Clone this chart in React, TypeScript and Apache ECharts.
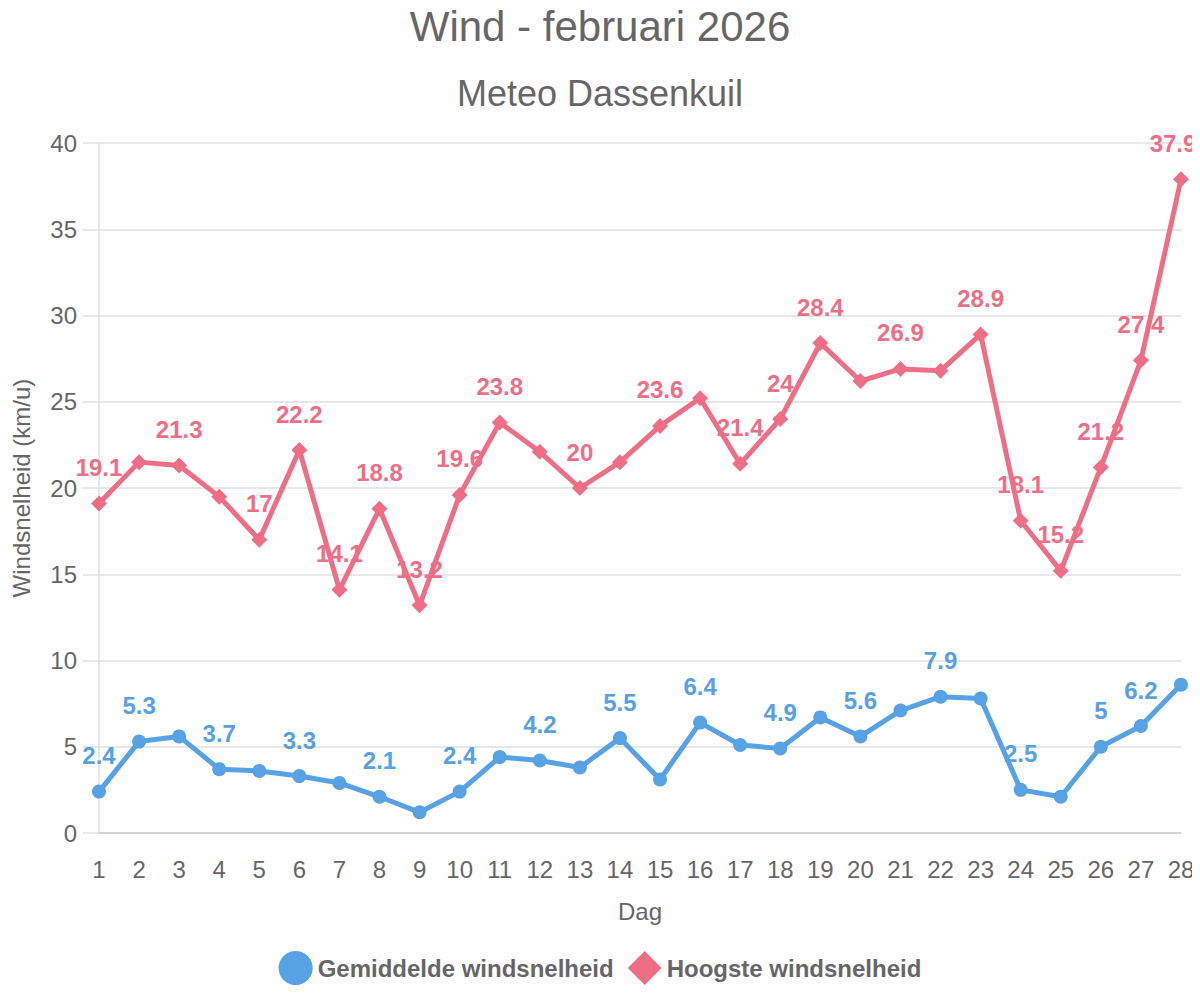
import { useEffect, useRef } from "react";
import * as echarts from "echarts";

const days = Array.from({ length: 28 }, (_, i) => String(i + 1));

const avgWind = [
  2.4, 5.3, 5.6, 3.7, 3.6, 3.3, 2.9, 2.1, 1.2, 2.4, 4.4, 4.2, 3.8, 5.5, 3.1,
  6.4, 5.1, 4.9, 6.7, 5.6, 7.1, 7.9, 7.8, 2.5, 2.1, 5, 6.2, 8.6,
];
const maxWind = [
  19.1, 21.5, 21.3, 19.5, 17, 22.2, 14.1, 18.8, 13.2, 19.6, 23.8, 22.1, 20,
  21.5, 23.6, 25.2, 21.4, 24, 28.4, 26.2, 26.9, 26.8, 28.9, 18.1, 15.2, 21.2,
  27.4, 37.9,
];

// which days get a visible value label (others were hidden in the original)
const avgLabelDays = [1, 2, 4, 6, 8, 10, 12, 14, 16, 18, 20, 22, 24, 26, 27];
const maxLabelDays = [
  1, 3, 5, 6, 7, 8, 9, 10, 11, 13, 15, 17, 18, 19, 21, 23, 24, 25, 26, 27, 28,
];

const yTicks = { min: 0, max: 40, interval: 5 };

const BLUE = "#57a1e5";
const RED = "#ee6e86";
const TEXT = "#666666";
const FONT = "'Liberation Sans', Arial, sans-serif";

export default function App() {
  const chartRef = useRef<HTMLDivElement>(null);

  useEffect(() => {
    if (!chartRef.current) return;
    const chart = echarts.init(chartRef.current, null, { renderer: "svg" });

    const lastIdx = days.length - 1;
    const withLabels = (values: number[], shown: number[]) =>
      values.map((v, i) => ({
        value: v,
        label: {
          show: shown.includes(i + 1),
          // keep the last label inside the canvas
          offset: i === lastIdx ? [-8, 0] : [0, 0],
        },
      }));

    const labelStyle = (color: string, distance: number) => ({
      position: "top",
      distance,
      color,
      fontSize: 24,
      fontWeight: "bold",
      fontFamily: FONT,
    });

    chart.setOption({
      animation: false,
      textStyle: { fontFamily: FONT },
      title: [
        {
          text: "Wind - februari 2026",
          left: "center",
          top: 0,
          textStyle: {
            color: TEXT,
            fontSize: 42,
            fontWeight: "normal",
            fontFamily: FONT,
          },
        },
        {
          text: "Meteo Dassenkuil",
          left: "center",
          top: 70,
          textStyle: {
            color: TEXT,
            fontSize: 36,
            fontWeight: "normal",
            fontFamily: FONT,
          },
        },
      ],
      legend: {
        top: 946,
        left: "center",
        itemWidth: 34,
        itemHeight: 34,
        itemGap: 14,
        textStyle: {
          color: TEXT,
          fontSize: 24,
          fontWeight: "bold",
          fontFamily: FONT,
        },
        data: [
          { name: "Gemiddelde windsnelheid", icon: "circle" },
          { name: "Hoogste windsnelheid", icon: "diamond" },
        ],
      },
      tooltip: { show: false },
      grid: {
        left: 99,
        right: 19,
        top: 143,
        bottom: 167,
      },
      xAxis: {
        type: "category",
        data: days,
        boundaryGap: false,
        name: "Dag",
        nameLocation: "middle",
        nameGap: 66,
        nameTextStyle: { color: TEXT, fontSize: 24, fontFamily: FONT },
        axisLine: { show: true, lineStyle: { color: "#cccccc", width: 1.5 } },
        axisTick: { show: false },
        axisLabel: {
          color: TEXT,
          fontSize: 24,
          margin: 24,
          interval: 0,
          fontFamily: FONT,
        },
        splitLine: { show: false },
      },
      yAxis: {
        type: "value",
        min: yTicks.min,
        max: yTicks.max,
        interval: yTicks.interval,
        name: "Windsnelheid (km/u)",
        nameLocation: "middle",
        nameGap: 66,
        nameTextStyle: { color: TEXT, fontSize: 24, fontFamily: FONT },
        axisLine: { show: true, lineStyle: { color: "#e0e0e0", width: 1.5 } },
        axisTick: {
          show: true,
          length: 16,
          lineStyle: { color: "#e0e0e0", width: 1.5 },
        },
        axisLabel: {
          color: TEXT,
          fontSize: 24,
          margin: 22,
          fontFamily: FONT,
        },
        splitLine: { show: true, lineStyle: { color: "#e0e0e0", width: 1.5 } },
      },
      series: [
        {
          name: "Gemiddelde windsnelheid",
          type: "line",
          data: withLabels(avgWind, avgLabelDays),
          color: BLUE,
          symbol: "circle",
          symbolSize: 14,
          showAllSymbol: true,
          lineStyle: { width: 5, color: BLUE },
          itemStyle: { color: BLUE },
          label: labelStyle(BLUE, 17),
          z: 3,
        },
        {
          name: "Hoogste windsnelheid",
          type: "line",
          data: withLabels(maxWind, maxLabelDays),
          color: RED,
          symbol: "diamond",
          symbolSize: 16,
          showAllSymbol: true,
          lineStyle: { width: 5, color: RED },
          itemStyle: { color: RED },
          label: labelStyle(RED, 16),
          z: 2,
        },
      ],
    });

    return () => {
      chart.dispose();
    };
  }, []);

  return <div ref={chartRef} style={{ width: 1200, height: 1000, margin: -8 }} />;
}
